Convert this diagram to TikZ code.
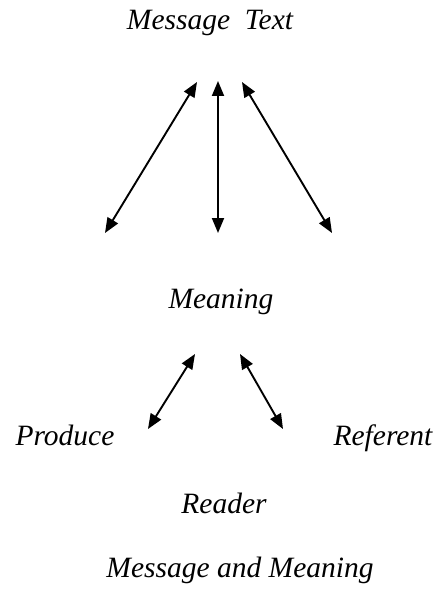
\documentclass[tikz,border=0pt]{standalone}
\usepackage{fontspec}
\setmainfont{Liberation Serif}
\usetikzlibrary{arrows.meta}
\begin{document}
\begin{tikzpicture}[x=1pt,y=-1pt,
  lbl/.style={anchor=base,inner sep=0pt,font=\fontsize{29.5}{34}\selectfont\itshape},
  dbl/.style={line width=1.9pt,{Triangle[length=15pt,width=12pt]}-{Triangle[length=15pt,width=12pt]}}]
\useasboundingbox (0,0) rectangle (436,591);
\node[lbl] (msg) at (210,30) {Message\hspace{0.5em}Text};
\node[lbl] (mean) at (221,308) {Meaning};
\node[lbl] (prod) at (65,445) {Produce};
\node[lbl] (ref) at (383,445) {Referent};
\node[lbl] (read) at (224,513) {Reader};
\node[lbl] (title) at (240,577) {Message and Meaning};
\coordinate (t1) at (197,82);
\coordinate (b1) at (105,233);
\coordinate (t2) at (218,81);
\coordinate (b2) at (218,233);
\coordinate (t3) at (242,82);
\coordinate (b3) at (332,233);
\coordinate (t4) at (195,354);
\coordinate (b4) at (148,429);
\coordinate (t5) at (240,354);
\coordinate (b5) at (283,429);
\draw[dbl] (t1) -- (b1);
\draw[dbl] (t2) -- (b2);
\draw[dbl] (t3) -- (b3);
\draw[dbl] (t4) -- (b4);
\draw[dbl] (t5) -- (b5);
\end{tikzpicture}
\end{document}
